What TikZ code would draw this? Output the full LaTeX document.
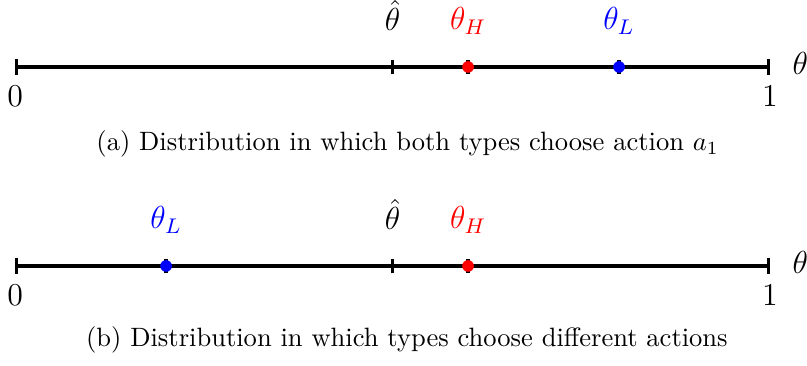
\documentclass[tikz,border=0pt]{standalone}
\usepackage{amsmath}
\usepackage{xcolor}
\usetikzlibrary{arrows.meta,positioning}

\begin{document}
\begin{tikzpicture}[
      axis/.style={line width=1.2pt, {Bar[width=5.8pt]}-{Bar[width=5.8pt]}},
      tickmark/.style={line width=1.2pt},
      typedot/.style={circle, fill=#1, inner sep=0pt, minimum size=4.4pt},
      lab/.style={anchor=base, font=\fontsize{12}{14.4}\selectfont},
      captext/.style={anchor=base, font=\fontsize{10}{12}\selectfont}
    ]
    \useasboundingbox (-0.2,-3.96) rectangle (10.49,0.887);
    % (a) both types choose a_1
    \coordinate (a0) at (0,0);
    \coordinate (a1) at (10,0);
    \coordinate (ahat) at (5,0);
    \coordinate (aH) at (6,0);
    \coordinate (aL) at (8,0);
    \draw[axis] (a0) -- (a1);
    \foreach \p in {ahat,aH,aL} { \draw[tickmark] ([yshift=-2.8pt]\p) -- ([yshift=2.8pt]\p); }
    \node[typedot=red] (aHdot) at (aH) {};
    \node[typedot=blue] (aLdot) at (aL) {};
    \node[lab] (azero) at (0,-0.53) {$0$};
    \node[lab] (aone) at (10,-0.53) {$1$};
    \node[lab] (atheta) at (10.4,-0.106) {$\theta$};
    \node[lab] (ahatlab) at (5,0.48) {$\hat{\theta}$};
    \node[lab, text=red] (aHlab) at (6,0.49) {$\theta_H$};
    \node[lab, text=blue] (aLlab) at (8,0.49) {$\theta_L$};
    \node[captext] (capa) at (5.2,-1.11) {(a) Distribution in which both types choose action $a_1$};

    % (b) types choose different actions
    \coordinate (b0) at (0,-2.636);
    \coordinate (b1) at (10,-2.636);
    \coordinate (bhat) at (5,-2.636);
    \coordinate (bH) at (6,-2.636);
    \coordinate (bL) at (2,-2.636);
    \draw[axis] (b0) -- (b1);
    \foreach \p in {bhat,bH,bL} { \draw[tickmark] ([yshift=-2.8pt]\p) -- ([yshift=2.8pt]\p); }
    \node[typedot=red] (bHdot) at (bH) {};
    \node[typedot=blue] (bLdot) at (bL) {};
    \node[lab] (bzero) at (0,-3.166) {$0$};
    \node[lab] (bone) at (10,-3.166) {$1$};
    \node[lab] (btheta) at (10.4,-2.742) {$\theta$};
    \node[lab] (bhatlab) at (5,-2.156) {$\hat{\theta}$};
    \node[lab, text=red] (bHlab) at (6,-2.146) {$\theta_H$};
    \node[lab, text=blue] (bLlab) at (2,-2.146) {$\theta_L$};
    \node[captext] (capb) at (5.19,-3.706) {(b) Distribution in which types choose different actions};
  \end{tikzpicture}
\end{document}
